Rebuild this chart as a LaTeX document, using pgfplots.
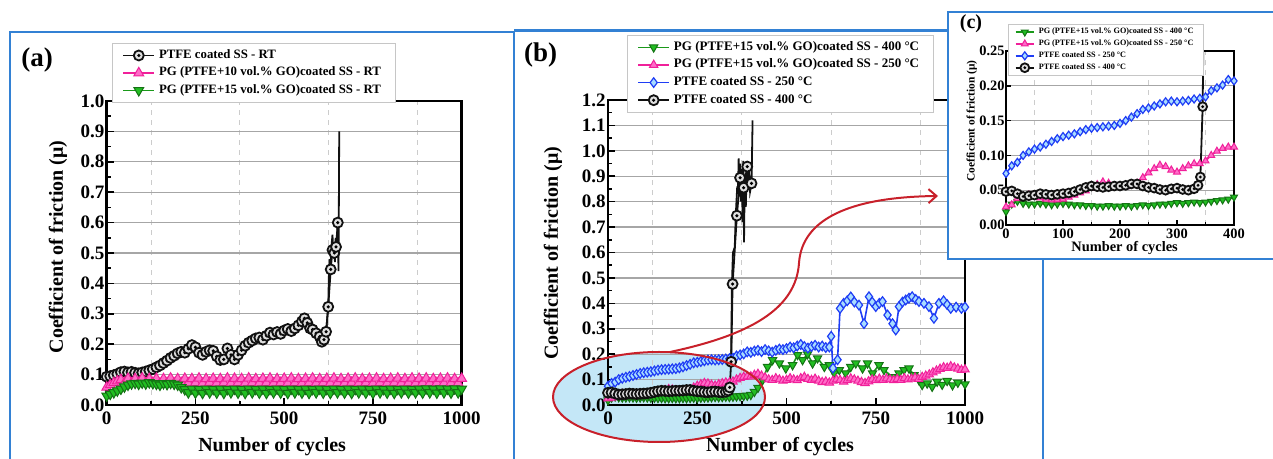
\documentclass[border=0pt]{standalone}
\usepackage{pgfplots}
\pgfplotsset{compat=1.18}
\usepackage{pgfplotstable}
\usepackage{fontspec}
\setmainfont{Liberation Serif}
\usetikzlibrary{arrows.meta}

\definecolor{framebl}{HTML}{3381D4}
\definecolor{cblk}{HTML}{111111}
\definecolor{cpink}{HTML}{F0209A}
\definecolor{cpinkf}{HTML}{FF6CC8}
\definecolor{cgrn}{HTML}{1A991A}
\definecolor{cgrnf}{HTML}{22BE22}
\definecolor{cblue}{HTML}{1F3DF5}
\definecolor{cbluef}{HTML}{A8DCFF}
\definecolor{cred}{HTML}{C8202A}
\definecolor{cellip}{HTML}{C4E7F7}

% circle with a dot in the middle
\pgfdeclareplotmark{odot}{%
  \pgfpathcircle{\pgfpointorigin}{\pgfplotmarksize}%
  \pgfusepathqfillstroke
  \begin{pgfscope}%
  \pgfsetfillcolor{black}%
  \pgfpathcircle{\pgfpointorigin}{0.35\pgfplotmarksize}%
  \pgfusepathqfill
  \end{pgfscope}%
}

\pgfplotsset{
  coffig/.style={
    scale only axis,
    axis line style={line width=1.3pt},
    tick align=inside, xtick pos=left, ytick pos=left,
    major tick length=3.5pt, minor tick length=2pt,
    tick style={black, line width=0.8pt},
    minor x tick num=1, minor y tick num=1,
    ymajorgrids=true, xminorgrids=true,
    major grid style={gray!70, line width=0.6pt, solid},
    minor grid style={gray!40, line width=0.5pt, dash pattern=on 2.5pt off 2.5pt},
    /pgf/number format/assume math mode=true,
    /pgf/number format/1000 sep={},
    tick label style={font=\fontsize{9.5}{10}\selectfont\bfseries, inner sep=1pt},
    yticklabel style={/pgf/number format/fixed, /pgf/number format/fixed zerofill, /pgf/number format/precision=1},
    xticklabel style={yshift=-2pt},
    label style={font=\fontsize{10}{11}\selectfont\bfseries},
    legend cell align=left,
    legend style={draw=gray!45, line width=0.5pt, fill=white, inner xsep=5pt, inner ysep=1.5pt,
      nodes={inner ysep=1.4pt}},
    legend image code/.code={\draw[mark repeat=2, mark phase=2] plot coordinates {(0cm,0cm) (0.27cm,0cm) (0.54cm,0cm)};},
  },
  sblk/.style={cblk, line width=0.9pt, mark=odot, mark size=2.5pt, mark options={fill=gray!25, draw=cblk, line width=0.9pt, solid}},
  spink/.style={cpink, line width=0.8pt, mark=triangle*, mark size=2.4pt, mark options={fill=cpinkf, draw=cpink, line width=0.5pt, solid}},
  sgrn/.style={cgrn, line width=0.8pt, mark=triangle*, mark size=2.4pt, mark options={fill=cgrnf, draw=cgrn!75!black, line width=0.5pt, rotate=180, solid}},
  sblue/.style={cblue, line width=0.8pt, mark=diamond*, mark size=2.4pt, mark options={fill=cbluef, draw=cblue, line width=0.6pt, solid}},
}

% ---------- panel (a): room temperature ----------
\pgfplotstableread{
x y
0 0.093
10 0.095
20 0.098
30 0.102
40 0.108
50 0.110
60 0.107
70 0.109
80 0.106
90 0.104
100 0.107
110 0.110
120 0.114
130 0.118
140 0.124
150 0.130
160 0.138
170 0.146
180 0.155
190 0.162
200 0.170
210 0.175
220 0.172
230 0.185
240 0.197
250 0.190
260 0.172
270 0.165
280 0.175
290 0.180
300 0.178
310 0.160
320 0.148
330 0.150
340 0.186
350 0.165
360 0.150
370 0.165
380 0.180
390 0.195
400 0.205
410 0.212
420 0.219
430 0.222
440 0.215
450 0.228
460 0.238
470 0.232
480 0.240
490 0.234
500 0.245
510 0.250
520 0.243
530 0.252
540 0.262
550 0.275
557 0.285
565 0.270
573 0.252
580 0.248
590 0.236
600 0.225
606 0.208
612 0.215
618 0.241
624 0.323
631 0.446
636 0.510
641 0.500
646 0.520
651 0.600
}\aBlack

\pgfplotstableread{
x y
0 0.058
10 0.066
20 0.073
30 0.079
40 0.083
50 0.073
60 0.087
70 0.072
80 0.086
90 0.073
100 0.088
110 0.072
120 0.086
130 0.074
140 0.087
150 0.071
160 0.086
170 0.073
180 0.088
190 0.072
200 0.086
210 0.073
220 0.087
230 0.072
240 0.086
250 0.073
260 0.088
270 0.071
280 0.086
290 0.074
300 0.087
310 0.072
320 0.086
330 0.073
340 0.088
350 0.072
360 0.087
370 0.073
380 0.086
390 0.072
400 0.088
410 0.073
420 0.086
430 0.072
440 0.087
450 0.073
460 0.088
470 0.072
480 0.086
490 0.073
500 0.087
510 0.072
520 0.088
530 0.073
540 0.086
550 0.072
560 0.087
570 0.073
580 0.088
590 0.072
600 0.086
610 0.073
620 0.087
630 0.072
640 0.088
650 0.073
660 0.086
670 0.072
680 0.087
690 0.074
700 0.088
710 0.072
720 0.086
730 0.073
740 0.087
750 0.072
760 0.088
770 0.073
780 0.086
790 0.072
800 0.087
810 0.073
820 0.088
830 0.072
840 0.086
850 0.073
860 0.088
870 0.072
880 0.087
890 0.073
900 0.088
910 0.072
920 0.086
930 0.073
940 0.087
950 0.072
960 0.088
970 0.073
980 0.086
990 0.072
1000 0.087
}\aPink

\pgfplotstableread{
x y
0 0.030
10 0.036
20 0.041
30 0.047
40 0.053
50 0.060
60 0.066
70 0.070
80 0.072
90 0.069
100 0.073
110 0.070
120 0.074
130 0.071
140 0.069
150 0.066
160 0.071
170 0.068
180 0.072
190 0.069
200 0.066
210 0.058
220 0.051
230 0.041
240 0.053
250 0.040
260 0.052
270 0.039
280 0.053
290 0.041
300 0.052
310 0.040
320 0.053
330 0.039
340 0.052
350 0.041
360 0.053
370 0.040
380 0.052
390 0.039
400 0.053
410 0.041
420 0.052
430 0.040
440 0.053
450 0.039
460 0.052
470 0.041
480 0.053
490 0.040
500 0.052
510 0.039
520 0.053
530 0.041
540 0.052
550 0.040
560 0.053
570 0.039
580 0.052
590 0.041
600 0.053
610 0.040
620 0.052
630 0.039
640 0.053
650 0.041
660 0.052
670 0.040
680 0.053
690 0.039
700 0.052
710 0.041
720 0.053
730 0.040
740 0.052
750 0.039
760 0.053
770 0.041
780 0.052
790 0.040
800 0.053
810 0.039
820 0.052
830 0.041
840 0.053
850 0.040
860 0.052
870 0.041
880 0.053
890 0.040
900 0.054
910 0.041
920 0.053
930 0.040
940 0.054
950 0.041
960 0.053
970 0.040
980 0.054
990 0.041
1000 0.053
}\aGreen

% ---------- panels (b) and (c): 250 and 400 C ----------
\pgfplotstableread{
x y
0 0.019
10 0.030
20 0.034
30 0.031
40 0.030
50 0.030
60 0.031
70 0.030
80 0.029
90 0.030
100 0.031
110 0.030
120 0.029
130 0.029
140 0.028
150 0.028
160 0.027
170 0.027
180 0.028
190 0.027
200 0.027
210 0.028
220 0.027
230 0.028
240 0.029
250 0.028
260 0.029
270 0.030
280 0.030
290 0.031
300 0.032
310 0.031
320 0.032
330 0.033
340 0.032
350 0.033
360 0.034
370 0.035
380 0.036
390 0.037
400 0.040
410 0.052
420 0.068
433 0.098
447 0.150
461 0.177
480 0.164
498 0.144
517 0.157
531 0.197
545 0.177
559 0.200
573 0.164
587 0.184
606 0.150
620 0.157
634 0.125
648 0.138
666 0.125
680 0.150
694 0.164
713 0.144
727 0.164
741 0.125
759 0.157
773 0.138
797 0.110
815 0.125
829 0.138
843 0.144
857 0.118
871 0.098
880 0.079
894 0.085
908 0.072
922 0.092
936 0.080
950 0.095
965 0.078
980 0.088
1000 0.082
}\bGreen

\pgfplotstableread{
x y
0 0.026
10 0.029
20 0.038
30 0.041
40 0.043
50 0.042
60 0.039
70 0.037
80 0.036
90 0.036
100 0.037
110 0.040
120 0.043
130 0.046
140 0.049
150 0.053
160 0.058
170 0.062
180 0.060
190 0.056
200 0.054
210 0.055
220 0.057
230 0.060
240 0.068
250 0.075
260 0.081
270 0.086
280 0.084
290 0.079
300 0.076
310 0.081
320 0.085
330 0.088
340 0.088
350 0.092
360 0.100
370 0.106
380 0.110
390 0.112
400 0.112
410 0.118
420 0.122
430 0.115
440 0.108
450 0.100
460 0.098
470 0.105
480 0.100
490 0.095
500 0.098
510 0.105
520 0.100
530 0.097
540 0.105
550 0.110
560 0.102
570 0.098
580 0.103
590 0.095
600 0.090
610 0.092
620 0.088
630 0.095
640 0.100
650 0.098
660 0.092
670 0.097
680 0.104
690 0.100
700 0.095
710 0.090
720 0.086
730 0.093
740 0.100
750 0.097
760 0.103
770 0.098
780 0.104
790 0.100
800 0.097
810 0.102
820 0.098
830 0.105
840 0.100
850 0.103
860 0.108
870 0.102
880 0.110
890 0.115
900 0.120
910 0.128
920 0.135
930 0.142
940 0.148
950 0.146
960 0.152
970 0.147
980 0.143
990 0.138
1000 0.140
}\bPink

\pgfplotstableread{
x y
0 0.074
10 0.085
20 0.090
30 0.100
40 0.105
50 0.109
60 0.112
70 0.116
80 0.120
90 0.124
100 0.127
110 0.129
120 0.131
130 0.134
140 0.137
150 0.139
160 0.140
170 0.141
180 0.142
190 0.143
200 0.146
210 0.150
220 0.155
230 0.160
240 0.166
250 0.168
260 0.171
270 0.174
280 0.177
290 0.178
300 0.177
310 0.178
320 0.179
330 0.181
340 0.182
350 0.184
360 0.193
370 0.197
380 0.201
390 0.209
400 0.207
410 0.212
420 0.215
430 0.210
440 0.218
450 0.213
460 0.208
470 0.215
480 0.220
490 0.218
500 0.222
510 0.228
520 0.225
530 0.232
540 0.238
550 0.230
560 0.224
570 0.230
580 0.235
590 0.228
600 0.232
610 0.226
620 0.228
625 0.270
630 0.145
643 0.178
650 0.380
660 0.400
670 0.410
680 0.425
690 0.405
703 0.393
717 0.320
731 0.426
740 0.405
750 0.387
760 0.400
769 0.407
783 0.354
797 0.320
806 0.295
815 0.387
825 0.405
834 0.413
843 0.420
852 0.426
862 0.415
871 0.407
885 0.400
899 0.387
913 0.341
927 0.400
940 0.410
950 0.395
960 0.380
975 0.385
990 0.380
1000 0.385
}\bBlue

\pgfplotstableread{
x y
0 0.048
10 0.049
20 0.045
30 0.041
40 0.042
50 0.043
60 0.045
70 0.044
80 0.043
90 0.044
100 0.045
110 0.046
120 0.048
130 0.051
140 0.054
150 0.056
160 0.055
170 0.054
180 0.055
190 0.056
200 0.056
210 0.057
220 0.059
230 0.059
240 0.056
250 0.054
260 0.053
270 0.051
280 0.050
290 0.052
300 0.053
310 0.051
320 0.050
330 0.052
337 0.057
341 0.069
345 0.170
349 0.476
361 0.745
370 0.894
380 0.855
390 0.938
402 0.872
}\bBlack

\begin{document}
\begin{tikzpicture}
\useasboundingbox (0,0) rectangle (636.5pt,229.5pt);

% panel frames
\draw[framebl, line width=1.1pt] (5pt,-10pt) -- (5pt,213.5pt) -- (257pt,213.5pt) -- (257pt,-10pt);
\draw[framebl, line width=1.1pt] (257pt,214.2pt) -- (521.5pt,214.2pt) -- (521.5pt,-10pt);

% highlighted region in (b)
\fill[cellip] (329.5pt,31pt) ellipse [x radius=53pt, y radius=22.5pt];

% ---------------- (a) ----------------
\begin{axis}[coffig,
  at={(53.35pt,27pt)}, anchor=south west, width=177.5pt, height=152pt,
  xmin=0, xmax=1000, ymin=0, ymax=1.0,
  xtick={0,250,500,750,1000},
  ytick={0,0.1,0.2,0.3,0.4,0.5,0.6,0.7,0.8,0.9,1.0},
  xlabel={Number of cycles}, ylabel={Coefficient of friction (μ)},
  xlabel style={at={(axis description cs:0.466,-0.138)}, anchor=center},
  ylabel style={at={(axis description cs:-0.137,0.52)}, anchor=center},
  legend style={at={(0.015,1.19)}, anchor=north west, font=\fontsize{6.4}{7}\selectfont\bfseries},
]
\addplot[sblk] table {\aBlack};
\addlegendentry{PTFE coated SS - RT}
\addplot[sblk, mark=none, forget plot] coordinates {
  (618,0.241) (624,0.323) (626,0.43) (628,0.48) (631,0.45) (633,0.52) (636,0.56) (638,0.50)
  (640,0.53) (643,0.47) (645,0.55) (648,0.50) (651,0.60) (653,0.44) (655,0.90)};
\addplot[spink, mark size=2.8pt] table {\aPink};
\addlegendentry{PG (PTFE+10 vol.\% GO)coated SS - RT}
\addplot[sgrn, mark size=2.8pt] table {\aGreen};
\addlegendentry{PG (PTFE+15 vol.\% GO)coated SS - RT}
\end{axis}

% ---------------- (b) ----------------
\begin{axis}[coffig,
  at={(304pt,27pt)}, anchor=south west, width=178.5pt, height=152.5pt,
  xmin=0, xmax=1000, ymin=0, ymax=1.2,
  xtick={0,250,500,750,1000},
  ytick={0,0.1,0.2,0.3,0.4,0.5,0.6,0.7,0.8,0.9,1.0,1.1,1.2},
  xlabel={Number of cycles}, ylabel={Coefficient of friction (μ)},
  xlabel style={at={(axis description cs:0.482,-0.138)}, anchor=center},
  ylabel style={at={(axis description cs:-0.154,0.497)}, anchor=center},
  legend style={at={(0.053,1.213)}, anchor=north west, font=\fontsize{6.5}{7}\selectfont\bfseries},
]
\addplot[sgrn] table {\bGreen};
\addlegendentry{PG (PTFE+15 vol.\% GO)coated SS - 400 °C}
\addplot[spink] table {\bPink};
\addlegendentry{PG (PTFE+15 vol.\% GO)coated SS - 250 °C}
\addplot[sblue] table {\bBlue};
\addlegendentry{PTFE coated SS - 250 °C}
\addplot[sblk] table {\bBlack};
\addlegendentry{PTFE coated SS - 400 °C}
\addplot[sblk, mark=none, forget plot] coordinates {
  (345,0.17) (347,0.47) (350,0.60) (355,0.62) (358,0.75) (362,0.86) (364,0.84) (366,0.97)
  (368,0.82) (370,0.95) (372,0.80) (375,0.93) (377,0.72) (379,0.96) (381,0.64) (383,0.90)
  (386,0.78) (389,0.95) (392,0.85) (395,0.93) (398,0.84) (402,0.87) (405,1.12)};
\end{axis}

% ellipse outline and arrow to the inset
\draw[cred, line width=1pt] (329.5pt,31pt) ellipse [x radius=53pt, y radius=22.5pt];
\draw[cred, line width=1pt, -{Straight Barb[length=4pt,width=7pt]}]
  (335pt,53.5pt) .. controls (375pt,62pt) and (398pt,75pt) .. (399.5pt,98pt)
  .. controls (401pt,120pt) and (425pt,131pt) .. (469pt,131.5pt);

% ---------------- (c) inset ----------------
\filldraw[fill=white, draw=framebl, line width=1.1pt] (474pt,223.5pt) rectangle (660pt,100pt);
\begin{axis}[coffig,
  at={(503pt,117pt)}, anchor=south west, width=114pt, height=87pt,
  xmin=0, xmax=400, ymin=0, ymax=0.25,
  xtick={0,100,200,300,400},
  ytick={0,0.05,0.10,0.15,0.20,0.25},
  minor y tick num=0,
  axis line style={line width=1.1pt},
  major tick length=2.5pt, minor tick length=1.5pt,
  tick label style={font=\fontsize{7.2}{8}\selectfont\bfseries, inner sep=0.5pt},
  yticklabel style={/pgf/number format/precision=2},
  xticklabel style={yshift=0.5pt},
  xlabel={Number of cycles}, ylabel={Coefficient of friction (μ)},
  xlabel style={at={(axis description cs:0.52,-0.13)}, anchor=center, font=\fontsize{7.2}{8}\selectfont\bfseries},
  ylabel style={at={(axis description cs:-0.15,0.598)}, anchor=center, font=\fontsize{5.7}{6}\selectfont\bfseries},
  legend style={at={(0.01,1.155)}, anchor=north west, font=\fontsize{4.1}{4.5}\selectfont\bfseries,
    inner xsep=3pt, inner ysep=0.8pt, nodes={inner ysep=0.8pt}},
  legend image code/.code={\draw[mark repeat=2, mark phase=2] plot coordinates {(0cm,0cm) (0.16cm,0cm) (0.32cm,0cm)};},
]
\addplot[sgrn, mark size=2pt] table {\bGreen};
\addlegendentry{PG (PTFE+15 vol.\% GO)coated SS - 400 °C}
\addplot[spink, mark size=2pt] table {\bPink};
\addlegendentry{PG (PTFE+15 vol.\% GO)coated SS - 250 °C}
\addplot[sblue, mark size=2pt] table {\bBlue};
\addlegendentry{PTFE coated SS - 250 °C}
\addplot[sblk, mark size=2.2pt] table {\bBlack};
\addlegendentry{PTFE coated SS - 400 °C}
\end{axis}

% panel letters
\node[font=\fontsize{13.5}{14}\selectfont\bfseries] at (18.5pt,199.5pt) {(a)};
\node[font=\fontsize{13.5}{14}\selectfont\bfseries] at (270.25pt,201.75pt) {(b)};
\node[font=\fontsize{10}{11}\selectfont\bfseries] at (485.5pt,217.5pt) {(c)};
\end{tikzpicture}
\end{document}
